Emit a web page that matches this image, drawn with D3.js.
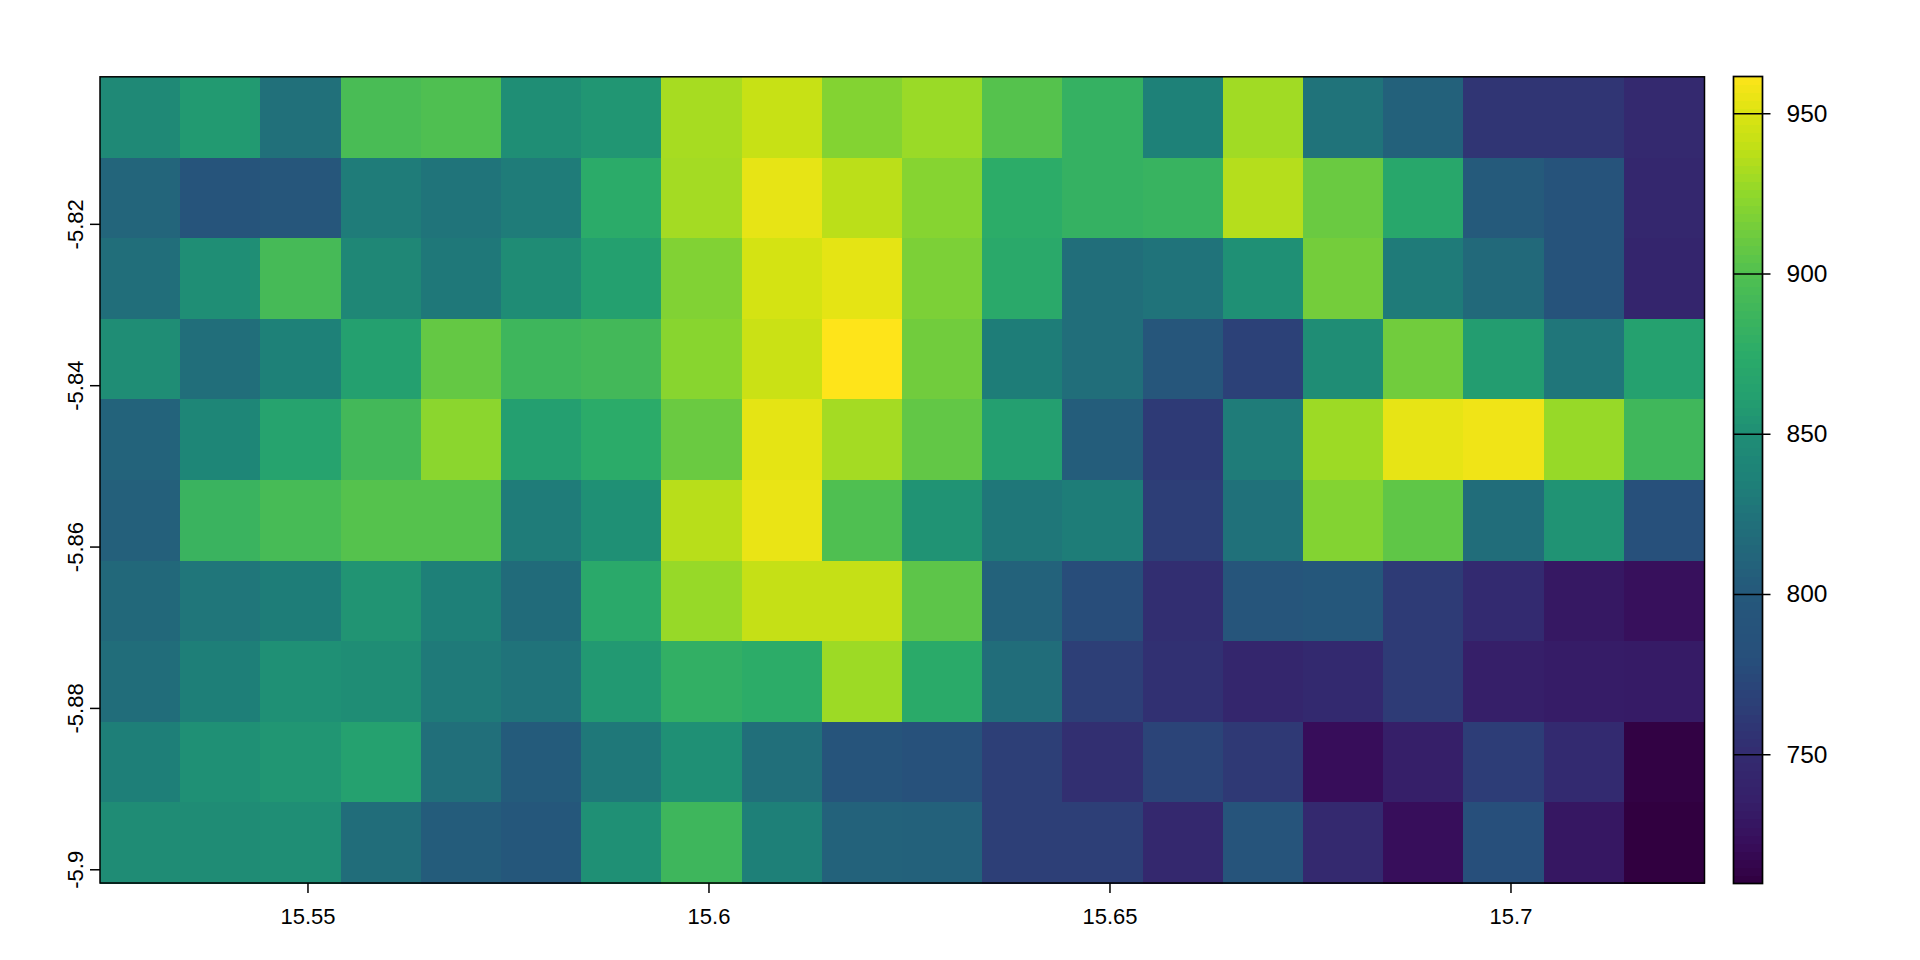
<!DOCTYPE html>
<html>
<head>
<meta charset="utf-8">
<script src="https://cdn.jsdelivr.net/npm/d3@7"></script>
<style>
html,body{margin:0;padding:0;background:#fff;overflow:hidden}
svg{display:block}
text{font-family:"Liberation Sans",Arial,sans-serif;fill:#000}
</style>
</head>
<body>
<svg id="chart" width="1920" height="960"></svg>
<script>
const lonExtent = [15.52413, 15.72413];
const latExtent = [-5.9017, -5.8018];
const nCols = 20;
const nRows = 10;
const row1  = [845,858,822,895,899,850,855,932,942,920,928,902,882,836,930,825,808,758,758,747];
const row2  = [812,790,795,832,826,832,875,931,954,938,921,876,882,884,936,910,870,802,788,745];
const row3  = [820,850,893,843,829,848,862,919,947,953,917,873,820,825,851,914,831,816,788,743];
const row4  = [849,820,836,862,908,888,891,922,943,962,913,833,820,795,768,849,913,860,827,863];
const row5  = [810,841,865,891,923,861,875,910,953,931,907,861,805,762,832,929,954,957,927,889];
const row6  = [807,885,894,902,902,832,851,937,955,899,853,828,833,765,823,920,906,819,853,783];
const row7  = [815,827,833,854,835,818,873,927,941,941,905,809,778,752,793,797,763,749,730,724];
const row8  = [819,834,851,849,830,825,857,880,876,929,874,819,766,754,744,748,763,735,733,732];
const row9  = [834,851,855,863,821,803,829,851,821,790,785,766,753,770,761,722,735,764,749,712];
const row10 = [848,848,850,819,804,797,851,888,835,809,808,766,766,746,792,747,723,780,729,710];
const rows = [row1,row2,row3,row4,row5,row6,row7,row8,row9,row10];

const xTicks = [15.55,15.6,15.65,15.7];
const yTicks = [-5.9,-5.88,-5.86,-5.84,-5.82];
const legendTicks = [750,800,850,900,950];
const valueRange = [709.7,961.5];
const colorValues = [710,722,735,750,765,780,800,825,835,850,862,875,900,925,940,950,962];
const colorHex = ["#310040","#370d5a","#361f69","#332b70","#2d3e77","#274f7b","#25587b","#20737a","#1e8078","#1f8e75","#24a06f","#2bab69","#50c050","#90d82b","#c2e016","#dce412","#fee41a"];

const plot = {left:100,right:1704,top:77,bottom:883};
const bar = {left:1733.5,right:1762.5,top:76.5,bottom:883.5};

const svg = d3.select("#chart");
const x = d3.scaleLinear().domain(lonExtent).range([plot.left,plot.right]);
const y = d3.scaleLinear().domain(latExtent).range([plot.bottom,plot.top]);
const color = d3.scaleLinear().domain(colorValues).range(colorHex).interpolate(d3.interpolateRgb);
const v = d3.scaleLinear().domain(valueRange).range([bar.bottom,bar.top]);

const lonStep = (lonExtent[1]-lonExtent[0])/nCols;
const latStep = (latExtent[1]-latExtent[0])/nRows;

const cells = rows.flatMap((r,ri)=>r.map((val,ci)=>({ri,ci,val})));
svg.append("g").attr("shape-rendering","crispEdges").selectAll("rect").data(cells).join("rect")
  .attr("x",d=>x(lonExtent[0]+d.ci*lonStep))
  .attr("y",d=>y(latExtent[1]-d.ri*latStep))
  .attr("width",d=>x(lonExtent[0]+(d.ci+1)*lonStep)-x(lonExtent[0]+d.ci*lonStep)+.5)
  .attr("height",d=>y(latExtent[1]-(d.ri+1)*latStep)-y(latExtent[1]-d.ri*latStep)+.5)
  .attr("fill",d=>color(d.val));

svg.append("rect")
  .attr("x",plot.left).attr("y",plot.top-.2)
  .attr("width",plot.right-plot.left+.5).attr("height",plot.bottom-plot.top+.2)
  .attr("fill","none").attr("stroke","#000").attr("stroke-width",1.5);

const xAxis = svg.append("g").attr("transform",`translate(0,${plot.bottom})`)
  .call(d3.axisBottom(x).tickValues(xTicks).tickSize(10).tickFormat(d=>String(d)));
xAxis.select(".domain").remove();
xAxis.selectAll("line").attr("stroke","#000").attr("stroke-width",1.5);
xAxis.selectAll("text").attr("y",41).attr("dy",0).attr("font-size",22);

const yAxis = svg.append("g").attr("transform",`translate(${plot.left},0)`)
  .call(d3.axisLeft(y).tickValues(yTicks).tickSize(10).tickFormat(d=>String(d)));
yAxis.select(".domain").remove();
yAxis.selectAll("line").attr("stroke","#000").attr("stroke-width",1.5);
yAxis.selectAll("text").attr("x",0).attr("y",-17).attr("dy",0)
  .attr("transform","rotate(-90)").attr("text-anchor","middle").attr("font-size",22);

const bands = d3.range(100).map(i=>valueRange[0]+(i+.5)*(valueRange[1]-valueRange[0])/100);
const bandH = (valueRange[1]-valueRange[0])/100;
svg.append("g").attr("shape-rendering","crispEdges").selectAll("rect").data(bands).join("rect")
  .attr("x",bar.left).attr("width",bar.right-bar.left)
  .attr("y",d=>v(d+bandH/2)).attr("height",d=>v(d-bandH/2)-v(d+bandH/2)+.5)
  .attr("fill",d=>color(d));
svg.append("rect")
  .attr("x",bar.left).attr("y",bar.top)
  .attr("width",bar.right-bar.left).attr("height",bar.bottom-bar.top)
  .attr("fill","none").attr("stroke","#000").attr("stroke-width",1.7);

const lAxis = svg.append("g").attr("transform",`translate(${bar.left},0)`)
  .call(d3.axisRight(v).tickValues(legendTicks).tickSize(37).tickPadding(16).tickFormat(d=>String(d)));
lAxis.select(".domain").remove();
lAxis.selectAll("line").attr("stroke","#000").attr("stroke-width",1.5);
lAxis.selectAll("text").attr("font-size",24.5);
</script>
</body>
</html>
